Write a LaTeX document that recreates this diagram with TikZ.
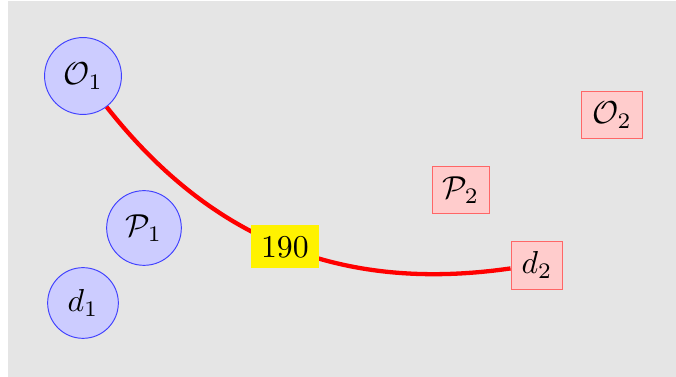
\documentclass[tikz,border=0pt]{standalone}
\begin{document}
\begin{tikzpicture}[x=0.315pt,y=-0.315pt,
  cnode/.style={circle,draw=blue!75,fill=blue!20,line width=0.3pt},
  snode/.style={rectangle,draw=red!60,fill=red!20,line width=0.3pt},
  lbl/.style={fill=yellow,inner sep=3.33pt}]
\useasboundingbox (0,0) rectangle (676,377);
\fill[gray!20] (8,1) rectangle (676,377);
\node[cnode] (O1) at (83,76) {$\mathcal{O}_1$};
\node[cnode] (P1) at (144,228) {$\mathcal{P}_1$};
\node[cnode] (d1) at (83,303) {$d_1$};
\node[snode] (O2) at (612,115) {$\mathcal{O}_2$};
\node[snode] (P2) at (461,190) {$\mathcal{P}_2$};
\node[snode] (d2) at (537,265) {$d_2$};
\draw[red,line width=1.35pt] (O1) to[bend right=30] node[lbl,text=black] (w) {190} (d2);
\end{tikzpicture}
\end{document}
